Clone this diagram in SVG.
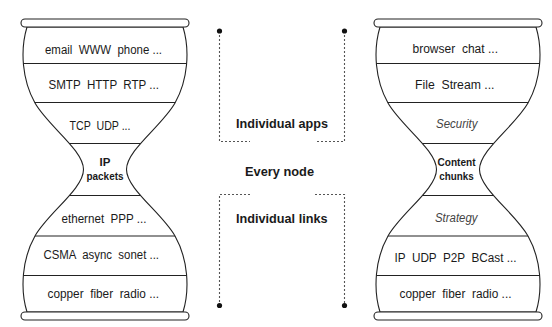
<svg xmlns="http://www.w3.org/2000/svg" width="552" height="327" viewBox="0 0 552 327">
<style>
  text { font-family: "Liberation Sans", Arial, sans-serif; white-space: pre; fill: #1a1a1a; }
  .t { font-size: 12.5px; }
  .b { font-size: 11.5px; font-weight: bold; }
  .i { font-size: 12.5px; font-style: italic; fill: #444; }
  .m { font-size: 13.5px; font-weight: bold; }
  .outline { fill: #fff; stroke: #222; stroke-width: 1.1; }
  .cap { fill: #fff; stroke: #222; stroke-width: 1.1; }
  .layer { stroke: #222; stroke-width: 1.1; }
  .dash { fill: none; stroke: #555; stroke-width: 1.1; stroke-dasharray: 2 2; }
  .dot { fill: #111; }
</style>
<defs>
  <path id="hg" d="M-78,27 C-85,50 -83,80 -70,103 C-57,126 -21.5,150 -21.5,169.5 C-21.5,189 -57,213 -70,236 C-83,259 -85,289 -78,312 L78,312 C85,289 83,259 70,236 C57,213 21.5,189 21.5,169.5 C21.5,150 57,126 70,103 C83,80 85,50 78,27 Z"/>
  <clipPath id="hgclip"><use href="#hg"/></clipPath>
  <g id="hourglass">
    <use href="#hg" class="outline"/>
    <g clip-path="url(#hgclip)">
      <line class="layer" x1="-100" y1="63.5" x2="100" y2="63.5"/>
      <line class="layer" x1="-100" y1="102.5" x2="100" y2="102.5"/>
      <line class="layer" x1="-100" y1="143.5" x2="100" y2="143.5"/>
      <line class="layer" x1="-100" y1="195.5" x2="100" y2="195.5"/>
      <line class="layer" x1="-100" y1="236" x2="100" y2="236"/>
      <line class="layer" x1="-100" y1="275.5" x2="100" y2="275.5"/>
    </g>
    <rect class="cap" x="-84" y="19" width="168" height="8" rx="4"/>
    <rect class="cap" x="-84" y="312" width="168" height="8" rx="4"/>
  </g>
</defs>

<g id="internet-hourglass">
  <use href="#hourglass" transform="translate(105,0)"/>
  <text class="t" x="45" y="53.5" textLength="117" lengthAdjust="spacingAndGlyphs">email  WWW  phone ...</text>
  <text class="t" x="48.5" y="89" textLength="110.5" lengthAdjust="spacingAndGlyphs">SMTP  HTTP  RTP ...</text>
  <text class="t" x="69.5" y="130" textLength="61" lengthAdjust="spacingAndGlyphs">TCP  UDP ...</text>
  <text class="b" x="105" y="166" text-anchor="middle">IP</text>
  <text class="b" x="105" y="180" text-anchor="middle" textLength="37" lengthAdjust="spacingAndGlyphs">packets</text>
  <text class="t" x="61.5" y="222.5" textLength="85" lengthAdjust="spacingAndGlyphs">ethernet  PPP ...</text>
  <text class="t" x="43.5" y="259" textLength="115.5" lengthAdjust="spacingAndGlyphs">CSMA  async  sonet ...</text>
  <text class="t" x="47.5" y="297.5" textLength="111.5" lengthAdjust="spacingAndGlyphs">copper  fiber  radio ...</text>
</g>

<g id="content-hourglass">
  <use href="#hourglass" transform="translate(458,0)"/>
  <text class="t" x="412.5" y="53" textLength="85.5" lengthAdjust="spacingAndGlyphs">browser  chat ...</text>
  <text class="t" x="415" y="89" textLength="79.5" lengthAdjust="spacingAndGlyphs">File  Stream ...</text>
  <text class="i" x="436" y="128" textLength="41.5" lengthAdjust="spacingAndGlyphs">Security</text>
  <text class="b" x="456.5" y="166" text-anchor="middle" textLength="38" lengthAdjust="spacingAndGlyphs">Content</text>
  <text class="b" x="456.5" y="180" text-anchor="middle" textLength="34.5" lengthAdjust="spacingAndGlyphs">chunks</text>
  <text class="i" x="435" y="222" textLength="42.5" lengthAdjust="spacingAndGlyphs">Strategy</text>
  <text class="t" x="394.5" y="261.5" textLength="122" lengthAdjust="spacingAndGlyphs">IP  UDP  P2P  BCast ...</text>
  <text class="t" x="399.5" y="298" textLength="112" lengthAdjust="spacingAndGlyphs">copper  fiber  radio ...</text>
</g>

<g id="connectors">
  <path class="dash" d="M219.5,31 V141.5 H250"/>
  <path class="dash" d="M344.5,31 V141.5 H315"/>
  <path class="dash" d="M250,194.5 H219.5 V305.5"/>
  <path class="dash" d="M315,194.5 H344.5 V305.5"/>
  <circle class="dot" cx="219.5" cy="31" r="2.6"/>
  <circle class="dot" cx="344.5" cy="31" r="2.6"/>
  <circle class="dot" cx="219.5" cy="305.5" r="2.6"/>
  <circle class="dot" cx="344.5" cy="305.5" r="2.6"/>
</g>

<g id="label-apps"><text class="m" x="236" y="127.5" textLength="92" lengthAdjust="spacingAndGlyphs">Individual apps</text></g>
<g id="label-node"><text class="m" x="245" y="176" textLength="69" lengthAdjust="spacingAndGlyphs">Every node</text></g>
<g id="label-links"><text class="m" x="236" y="222.5" textLength="91.5" lengthAdjust="spacingAndGlyphs">Individual links</text></g>
</svg>
